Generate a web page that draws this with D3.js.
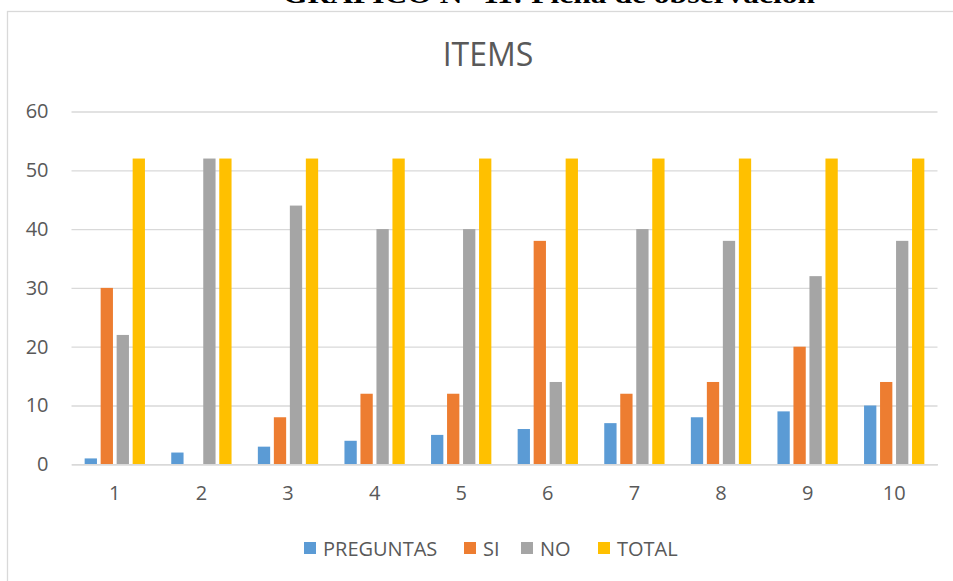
<!DOCTYPE html>
<html><head><meta charset="utf-8">
<script src="https://cdnjs.cloudflare.com/ajax/libs/d3/7.8.5/d3.min.js"></script>
<style>html,body{margin:0;padding:0;background:#fff;}svg{display:block;}</style>
</head><body><svg id="c" width="953" height="581"></svg>
<script>
const categories = ["1","2","3","4","5","6","7","8","9","10"];
const seriesNames = ["PREGUNTAS","SI","NO","TOTAL"];
const preguntas = [1,2,3,4,5,6,7,8,9,10];
const si = [30,0,8,12,12,38,12,14,20,14];
const no = [22,52,44,40,40,14,40,38,32,38];
const total = [52,52,52,52,52,52,52,52,52,52];
const yTicks = [0,10,20,30,40,50,60];
const colors = ["#5B9BD5","#ED7D31","#A5A5A5","#FFC000"];
const values = [preguntas, si, no, total];

const svg = d3.select("#c");
const font = "'Open Sans', sans-serif";
const txt = "#595959";

// cut-off page caption above the chart
svg.append("text").attr("x",283).attr("y",3)
  .attr("font-family","'Liberation Serif', serif").attr("font-weight","bold")
  .attr("font-size",26).attr("textLength",532).attr("lengthAdjust","spacingAndGlyphs")
  .attr("fill","#000").text("GRÁFICO N° 11: Ficha de observación");

// chart border
svg.append("rect").attr("x",7.5).attr("y",11.5).attr("width",960).attr("height",600)
  .attr("fill","none").attr("stroke","#d9d9d9").attr("stroke-width",1.3);

const x0 = d3.scaleBand().domain(categories).range([71.5,937.5]).paddingInner(0.261).paddingOuter(0.1305);
const x1 = d3.scaleBand().domain(seriesNames).range([0,x0.bandwidth()]);
const y = d3.scaleLinear().domain([0,60]).range([464.3,111.5]);

// gridlines
const yAxis = d3.axisLeft(y).tickValues(yTicks).tickSize(-(937.5-71.5)).tickPadding(23);
const gy = svg.append("g").attr("transform","translate(71.5,0)").call(yAxis);
gy.select(".domain").remove();
gy.selectAll(".tick line").attr("stroke","#d9d9d9").attr("stroke-width",1.3);
gy.selectAll(".tick text").attr("font-family",font).attr("font-size",20).attr("fill",txt);

// bars
seriesNames.forEach((s,si_) => {
  svg.append("g").selectAll("rect").data(categories).join("rect")
    .attr("x", (c) => x0(c) + x1(s) + 1.85)
    .attr("width", x1.bandwidth() - 3.7)
    .attr("y", (c,i) => y(values[si_][i]))
    .attr("height", (c,i) => y(0) - y(values[si_][i]))
    .attr("fill", colors[si_]);
});

// x axis
const xAxis = d3.axisBottom(x0).tickSize(0).tickPadding(22);
const gx = svg.append("g").attr("transform",`translate(0,${y(0)})`).call(xAxis);
gx.select(".domain").attr("stroke","#d9d9d9").attr("stroke-width",1.5);
gx.selectAll(".tick text").attr("font-family",font).attr("font-size",20).attr("fill",txt);

// title
svg.append("text").attr("x",488).attr("y",66).attr("text-anchor","middle")
  .attr("font-family",font).attr("font-size",32).attr("fill",txt).text("ITEMS");

// legend
const legX = [304,464,521,598];
const lg = svg.append("g");
seriesNames.forEach((s,i) => {
  lg.append("rect").attr("x",legX[i]).attr("y",542).attr("width",12).attr("height",12).attr("fill",colors[i]);
  lg.append("text").attr("x",legX[i]+19).attr("y",555.5)
    .attr("font-family",font).attr("font-size",20).attr("fill",txt).text(s);
});
</script>
</body></html>
